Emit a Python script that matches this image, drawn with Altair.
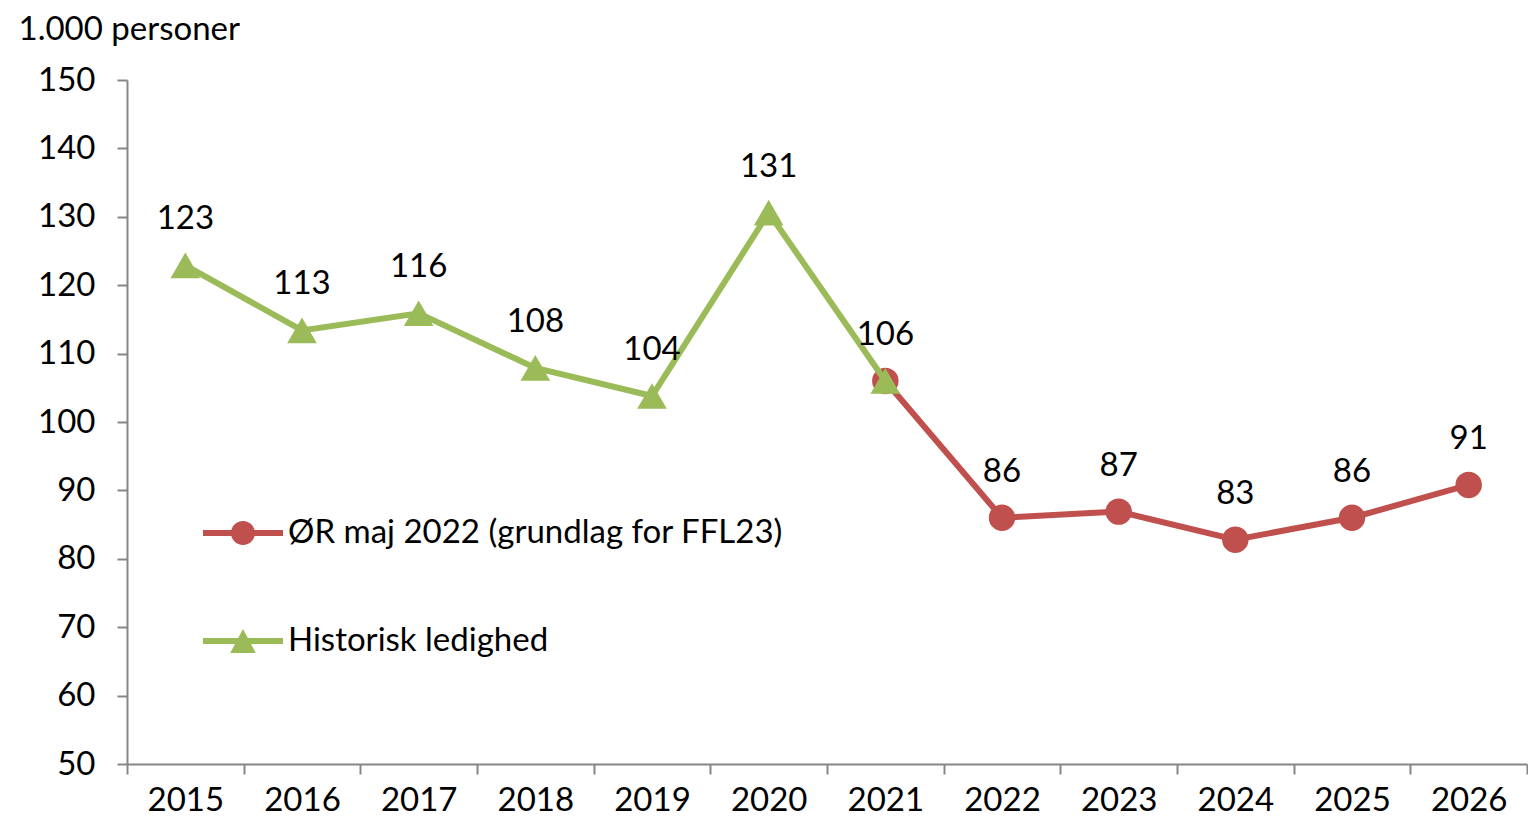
import altair as alt
import pandas as pd

# ---- data ----
all_years = [str(y) for y in range(2015, 2027)]
hist_years = ["2015", "2016", "2017", "2018", "2019", "2020", "2021"]
hist_values = [122.9, 113.4, 115.9, 107.9, 103.8, 130.6, 106.0]
fc_years = ["2021", "2022", "2023", "2024", "2025", "2026"]
fc_values = [106.0, 86.0, 86.9, 82.8, 86.0, 90.8]
series_names = ["ØR maj 2022 (grundlag for FFL23)", "Historisk ledighed"]
series_colors = ["#C0504D", "#9BBB59"]
y_ticks = list(range(50, 151, 10))

FONT = "Lato"
FS = 33
AXIS_COLOR = "#868686"

hist_df = pd.DataFrame({"year": hist_years, "value": hist_values})
fc_df = pd.DataFrame({"year": fc_years, "value": fc_values})
label_df = pd.DataFrame({
    "year": hist_years + fc_years[1:],
    "value": hist_values + fc_values[1:],
})
legend_df = pd.DataFrame({"series": series_names, "year": ["2015", "2015"], "value": [100, 100]})

x_enc = alt.X(
    "year:O",
    scale=alt.Scale(type="band", domain=all_years, paddingInner=0, paddingOuter=0),
    bandPosition=0.5,
    axis=alt.Axis(
        title=None, tickBand="extent", labelAngle=0, labelFontSize=FS, labelColor="#000000",
        labelPadding=10, tickSize=10, tickWidth=2, tickColor=AXIS_COLOR,
        domainColor=AXIS_COLOR, domainWidth=2, grid=False, labelFont=FONT,
    ),
)
y_enc = alt.Y(
    "value:Q",
    scale=alt.Scale(domain=[50, 150], nice=False, zero=False),
    axis=alt.Axis(
        values=y_ticks, title="1.000 personer", titleAngle=0, titleX=-109, titleY=-51,
        titleAlign="left", titleBaseline="middle", titleFontSize=FS, titleFontWeight="normal",
        titleColor="#000000", titleFont=FONT,
        labelFontSize=FS, labelColor="#000000", labelPadding=22, labelFont=FONT,
        tickSize=10, tickWidth=2, tickColor=AXIS_COLOR, domainColor=AXIS_COLOR, domainWidth=2,
        grid=False,
    ),
)

red, green = series_colors

red_line = alt.Chart(fc_df).mark_line(color=red, strokeWidth=6).encode(x=x_enc, y=y_enc)
red_pts = alt.Chart(fc_df).mark_point(filled=True, opacity=1, shape="circle", size=700, color=red).encode(x=x_enc, y=y_enc)
green_line = alt.Chart(hist_df).mark_line(color=green, strokeWidth=6).encode(x=x_enc, y=y_enc)
green_pts = alt.Chart(hist_df).mark_point(filled=True, opacity=1, shape="triangle-up", size=880, color=green).encode(x=x_enc, y=y_enc)

labels = alt.Chart(label_df).mark_text(
    dy=-46, fontSize=FS, font=FONT, color="#000000", baseline="middle"
).encode(x=x_enc, y=y_enc, text=alt.Text("value:Q", format=".0f"))

circle_path = ("M-1,-0.075 L-0.28,-0.075 L-0.28,0.075 L-1,0.075 Z "
               "M0.28,-0.075 L1,-0.075 L1,0.075 L0.28,0.075 Z "
               "M0.3,0 A0.3,0.3 0 1 1 -0.3,0 A0.3,0.3 0 1 1 0.3,0 Z")
tri_path = ("M-1,-0.075 L1,-0.075 L1,0.075 L-1,0.075 Z "
            "M0,-0.3 L0.32,0.3 L-0.32,0.3 Z")

leg = alt.Legend(
    title=None, orient="none", legendX=76, legendY=413, padding=0,
    symbolSize=6400, symbolStrokeWidth=0, labelFontSize=FS, labelFont=FONT,
    labelColor="#000000", labelOffset=5, labelLimit=800, rowPadding=51,
)
legend_layer = alt.Chart(legend_df).mark_point(filled=True, opacity=1).transform_filter("false").encode(
    x=x_enc, y=y_enc,
    color=alt.Color("series:N", scale=alt.Scale(domain=series_names, range=series_colors), legend=leg),
    shape=alt.Shape("series:N", scale=alt.Scale(domain=series_names, range=[circle_path, tri_path]), legend=leg),
)

chart = alt.layer(
    red_line, red_pts, green_line, green_pts, labels, legend_layer
).properties(
    width=1400, height=684,
    padding={"left": 10, "top": 5, "right": 0, "bottom": 0},
    background="white",
).configure(font=FONT).configure_view(stroke=None)

chart.save("out.html", embed_options={"renderer": "svg", "actions": False})
